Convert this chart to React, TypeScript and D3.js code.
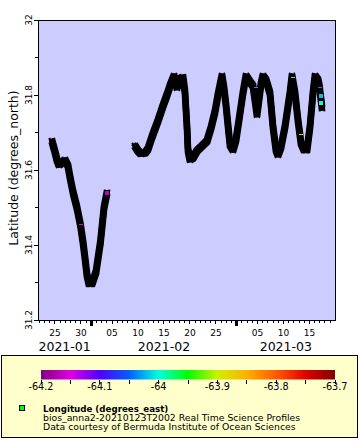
import React from 'react';
import * as d3 from 'd3';

// ---- data (time as days since 2021-01-01T00:00Z) ----
const seg1Day = [23.43, 24.01, 24.39, 24.78, 25.36, 25.94, 26.51, 26.9, 27.48, 28.25, 28.92, 29.4, 29.79, 30.17, 30.56, 31.13, 31.91, 32.77, 33.45, 34.02];
const seg1Lat = [31.677, 31.648, 31.627, 31.613, 31.619, 31.627, 31.611, 31.581, 31.541, 31.499, 31.453, 31.408, 31.365, 31.32, 31.296, 31.296, 31.328, 31.408, 31.499, 31.539];

const seg2Day = [39.42, 39.99, 40.57, 41.34, 41.92, 42.69, 43.84, 44.81, 45.58, 46.16, 46.93, 47.5, 48.08, 48.66, 49.04, 49.43, 49.62, 50.01, 50.58, 51.35, 52.32, 53.28, 54.05, 54.82, 55.4, 56.17, 56.55, 56.94, 57.32, 57.71, 58.29, 58.86, 59.44, 60.21, 60.79, 61.56, 62.14, 62.52, 62.91, 63.29, 63.68, 64.06, 64.64, 65.41, 65.99, 66.57, 66.95, 67.53, 68.3, 69.26, 69.65, 70.23, 70.8, 71.38, 71.96, 72.54, 73.11, 73.69, 74.08, 74.66, 74.95, 75.14, 75.33, 75.43];
const seg2Lat = [31.664, 31.651, 31.643, 31.645, 31.656, 31.688, 31.731, 31.771, 31.8, 31.824, 31.851, 31.819, 31.843, 31.848, 31.808, 31.715, 31.653, 31.627, 31.632, 31.651, 31.664, 31.677, 31.712, 31.755, 31.8, 31.851, 31.819, 31.773, 31.72, 31.667, 31.653, 31.68, 31.733, 31.805, 31.851, 31.835, 31.824, 31.787, 31.747, 31.787, 31.829, 31.851, 31.84, 31.805, 31.715, 31.653, 31.64, 31.661, 31.715, 31.805, 31.851, 31.805, 31.733, 31.672, 31.653, 31.653, 31.715, 31.805, 31.851, 31.84, 31.821, 31.797, 31.779, 31.765];

const markerDay = [34.02, 29.02, 62.66, 69.84, 71.32, 74.95, 75.14, 75.33];
const markerLat = [31.539, 31.456, 31.821, 31.847, 31.696, 31.821, 31.797, 31.779];
const markerLon = [-64.17, -64.15, -64.03, -64.0, -63.89, -64.04, -64.02, -64.0];
const markerKind = ['square', 'dash', 'dash', 'dash', 'dash', 'dash', 'square', 'square'];

const xDomainDays = [20.74, 77.93];
const yDomain = [31.2, 32];
const yLabelTicks = [31.2, 31.4, 31.6, 31.8, 32];
const cbarDomain = [-64.2, -63.7];
const cbarLabelTicks = [-64.2, -64.1, -64, -63.9, -63.8, -63.7];
const cbarStops = [-64.2, -64.15, -64.1, -64.05, -64.0, -63.95, -63.9, -63.85, -63.8, -63.75, -63.7];
const cbarColors = ['#800080', '#e000e0', '#5000ff', '#0060ff', '#00ffe0', '#00ff00', '#ccf000', '#ffb000', '#ff5a00', '#e00000', '#800000'];

const legendTitle = 'Longitude (degrees_east)';
const legendLine2 = 'bios_anna2-20210123T2002 Real Time Science Profiles';
const legendLine3 = 'Data courtesy of Bermuda Institute of Ocean Sciences';
const yTitle = 'Latitude (degrees_north)';

const FONT = 'DejaVu Sans';
const toDate = (d: number) => new Date(Date.UTC(2021, 0, 1) + d * 864e5);

// square "brush" offsets to mimic a chain of square markers
const BRUSH = [[-2.3, -2.3], [2.3, -2.3], [-2.3, 2.3], [2.3, 2.3]];

export default function App() {
  const W = 360, H = 440;
  const L = 38, R = 335, T = 20, B = 320;
  const x = d3.scaleUtc().domain(xDomainDays.map(toDate)).range([L, R]);
  const y = d3.scaleLinear().domain(yDomain).range([B, T]);
  const color = d3.scaleLinear<string>().domain(cbarStops).range(cbarColors);
  const cx = d3.scaleLinear().domain(cbarDomain).range([41, 335]);

  const line = d3.line<[number, number]>().x(p => x(toDate(p[0]))).y(p => y(p[1]));
  const seg1 = seg1Day.map((d, i) => [d, seg1Lat[i]] as [number, number]);
  const seg2 = seg2Day.map((d, i) => [d, seg2Lat[i]] as [number, number]);

  const [d0, d1] = x.domain();
  const days = d3.utcDay.range(d0, d1);
  const months = d3.utcMonth.range(d3.utcMonth.floor(d0), d1);
  const fmtDay = d3.utcFormat('%d');
  const fmtMonth = d3.utcFormat('%Y-%m');
  const yMinor = y.ticks(8);
  const cbarMinor = d3.range(0, 11).map(i => cbarDomain[0] + i * 0.05);

  return (
    <svg width={W} height={H} style={{ position: 'absolute', left: 0, top: 0, background: '#fff' }} fontFamily={FONT}>
      <defs>
        <linearGradient id="cbar" x1="0" x2="1" y1="0" y2="0">
          {cbarStops.map((s, i) => (
            <stop key={i} offset={(s - cbarDomain[0]) / (cbarDomain[1] - cbarDomain[0])} stopColor={cbarColors[i]} />
          ))}
        </linearGradient>
      </defs>
      <rect x={L} y={T} width={R - L} height={B - T} fill="#ccccff" />
      {/* track */}
      {[seg1, seg2].map((s, i) => {
        const d = line(s) || '';
        return (
          <g key={i}>
            <path d={d} fill="none" stroke="#000" strokeWidth={5.5} strokeLinejoin="round" strokeLinecap="square" />
            {BRUSH.map(([ox, oy], j) => (
              <path key={j} d={d} transform={`translate(${ox},${oy})`} fill="none" stroke="#000" strokeWidth={2} strokeLinejoin="round" strokeLinecap="square" />
            ))}
          </g>
        );
      })}
      {markerDay.map((d, i) => {
        const px = Math.round(x(toDate(d)));
        const py = Math.round(y(markerLat[i]));
        const c = color(markerLon[i]);
        return markerKind[i] === 'square' ? (
          <rect key={i} x={px - 2.5} y={py - 2.5} width={5} height={5} fill={c} stroke="#000" strokeWidth={1} shapeRendering="crispEdges" />
        ) : (
          <rect key={i} x={px - 2} y={py} width={4} height={1.2} fill={c} shapeRendering="crispEdges" />
        );
      })}
      <rect x={L} y={T} width={R - L} height={B - T} fill="none" stroke="#000" strokeWidth={1} shapeRendering="crispEdges" />
      {/* y axis */}
      {yMinor.map((v, i) => (
        <line key={i} x1={L} x2={L - 3} y1={y(v)} y2={y(v)} stroke="#000" shapeRendering="crispEdges" />
      ))}
      {yLabelTicks.map((v, i) => (
        <g key={i}>
          <line x1={L} x2={L - 4} y1={y(v)} y2={y(v)} stroke="#000" shapeRendering="crispEdges" />
          <text transform={`translate(32,${y(v)}) rotate(-90)`} textAnchor="middle" fontSize={9}>{String(v)}</text>
        </g>
      ))}
      <text transform={`translate(17.5,${(T + B) / 2 - 2}) rotate(-90)`} textAnchor="middle" fontSize={12.5}>{yTitle}</text>
      {/* x axis */}
      {days.map((d, i) => {
        const dd = d.getUTCDate();
        const px = x(d);
        if (dd === 1) return <rect key={i} x={px - 1.5} y={B} width={3} height={6} fill="#000" shapeRendering="crispEdges" />;
        const major = dd % 5 === 0;
        return (
          <g key={i}>
            <line x1={px} x2={px} y1={B} y2={B + (major ? 4 : 3)} stroke="#000" shapeRendering="crispEdges" />
            {major && <text x={px} y={336} textAnchor="middle" fontSize={9}>{fmtDay(d)}</text>}
          </g>
        );
      })}
      {months.map((m, i) => {
        const a = Math.max(+m, +d0);
        const b = Math.min(+d3.utcMonth.offset(m, 1), +d1);
        const mid = (x(new Date(a)) + x(new Date(b))) / 2;
        return <text key={i} x={mid} y={351} textAnchor="middle" fontSize={12.5}>{fmtMonth(m)}</text>;
      })}
      {/* legend */}
      <rect x={1.5} y={355.5} width={356} height={82} fill="#ffffcc" stroke="#000" shapeRendering="crispEdges" />
      <rect x={41} y={370} width={294} height={9.5} fill="url(#cbar)" />
      {cbarMinor.map((v, i) => (
        <line key={i} x1={cx(v)} x2={cx(v)} y1={379.5} y2={384} stroke="#000" shapeRendering="crispEdges" />
      ))}
      {cbarLabelTicks.map((v, i) => (
        <text key={i} x={cx(v)} y={390} textAnchor="middle" fontSize={9.7}>{String(v)}</text>
      ))}
      <rect x={19.5} y={405.5} width={5} height={5} fill="#00ff00" stroke="#000" shapeRendering="crispEdges" />
      <text x={43} y={411.5} fontSize={8.7} fontWeight="bold">{legendTitle}</text>
      <text x={43} y={420.7} fontSize={9.3}>{legendLine2}</text>
      <text x={43} y={430} fontSize={9.3}>{legendLine3}</text>
    </svg>
  );
}
